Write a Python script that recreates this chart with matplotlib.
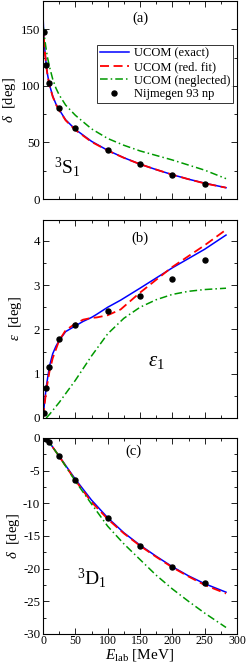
import numpy as np
import matplotlib
matplotlib.use('Agg')
import matplotlib.pyplot as plt
from matplotlib.ticker import MultipleLocator

plt.rcParams['font.family'] = ['Liberation Serif', 'DejaVu Serif']
plt.rcParams['mathtext.fontset'] = 'custom'
plt.rcParams['mathtext.rm'] = 'Liberation Serif'
plt.rcParams['mathtext.it'] = 'Liberation Serif:italic'
plt.rcParams['axes.unicode_minus'] = False

# Nijmegen PWA93 np data
e_data = [1, 5, 10, 25, 50, 100, 150, 200, 250]
s1_data = [147.7, 118.2, 102.6, 80.6, 62.8, 43.2, 30.7, 21.2, 13.4]
eps_data = [0.105, 0.672, 1.159, 1.793, 2.109, 2.42, 2.75, 3.13, 3.56]
d1_data = [-0.005, -0.183, -0.677, -2.799, -6.433, -12.236, -16.48, -19.71, -22.21]

# 3S1 curves
e_s1 = [0.4, 1, 2, 3, 5, 7, 10, 15, 20, 25, 35, 50, 75, 100, 125, 150, 175, 200, 225, 250, 283]
s1_exact = [157, 148, 138, 131, 118, 110, 101, 91, 84, 79, 70, 61.5, 51, 43, 36.5, 30.8, 26, 21.5, 17.5, 14, 10]
s1_red = [126, 146, 137, 130, 117.5, 109.5, 100.5, 90.5, 83.5, 78.5, 69.5, 61, 50.5, 42.8, 36.4, 30.8, 26, 21.5, 17.5, 13.8, 10]
s1_negl = [152, 150, 145, 140, 132, 125, 117, 106, 98, 92, 83, 74, 62, 53.5, 47.5, 42.5, 38.5, 34.5, 30, 25.5, 18]

# epsilon1 curves
e_eps = [0.5, 2, 5, 10, 15, 20, 25, 35, 50, 62, 75, 83, 100, 120, 150, 200, 250, 283]
eps_exact = [0.05, 0.3, 0.7, 1.17, 1.45, 1.62, 1.75, 1.95, 2.08, 2.18, 2.27, 2.34, 2.5, 2.66, 2.93, 3.39, 3.81, 4.13]
eps_red = [0.02, 0.25, 0.62, 1.05, 1.35, 1.55, 1.75, 1.98, 2.13, 2.22, 2.26, 2.27, 2.32, 2.45, 2.83, 3.41, 3.9, 4.25]
e_negl = [5, 10, 25, 50, 75, 100, 125, 150, 175, 200, 225, 250, 283]
eps_negl = [0.0, 0.08, 0.35, 0.85, 1.4, 1.9, 2.25, 2.5, 2.67, 2.79, 2.86, 2.9, 2.93]

# 3D1 curves
e_d1 = [0, 5, 10, 25, 50, 75, 100, 125, 150, 175, 200, 225, 250, 283]
d1_exact = [0, -0.2, -0.7, -2.8, -6.3, -9.5, -12.2, -14.5, -16.4, -18.1, -19.7, -21.1, -22.3, -23.6]
d1_red = [0, -0.2, -0.7, -2.8, -6.5, -9.8, -12.4, -14.6, -16.5, -18.2, -19.8, -21.2, -22.5, -23.8]
d1_negl = [0, -0.2, -0.7, -2.8, -6.6, -10.1, -13.5, -16.2, -18.6, -21.0, -23.1, -25.0, -26.8, -29.0]

blue = '#0000ff'
red = '#ff0000'
green = '#009900'
dashdot = (0, (5, 2, 1, 2))

fig = plt.figure(figsize=(2.49, 6.70), dpi=100)
W, H = 249.0, 670.0
left = 43 / W
width = 194 / W
ax_a = fig.add_axes([left, (H - 199) / H, width, 198 / H])
ax_b = fig.add_axes([left, (H - 418) / H, width, 198 / H])
ax_c = fig.add_axes([left, (H - 634) / H, width, 196 / H])

fs_y = 9.3
fs_x = 8.6
fs_lab = 10.5
fs_tag = 10.5
fs_big = 14


def curves(ax, e1, y1, e2, y2, e3, y3, ed, yd):
    ax.plot(e1, y1, color=blue, lw=1.1, label='UCOM (exact)')
    ax.plot(e2, y2, color=red, lw=1.3, ls=(0, (5, 2.5)), label='UCOM (red. fit)')
    ax.plot(e3, y3, color=green, lw=1.1, ls=dashdot, label='UCOM (neglected)')
    ax.plot(ed, yd, 'o', color='black', ms=3.6, label='Nijmegen 93 np')


def style(ax):
    ax.set_xlim(0, 300)
    ax.xaxis.set_major_locator(MultipleLocator(50))
    ax.xaxis.set_minor_locator(MultipleLocator(25))
    ax.tick_params(which='both', direction='in', top=True, right=True, pad=2)
    ax.tick_params(axis='y', labelsize=fs_y)
    ax.tick_params(axis='x', labelsize=fs_x, pad=1)
    ax.tick_params(which='major', length=4, width=0.6)
    ax.tick_params(which='minor', length=2.5, width=0.6)
    for sp in ax.spines.values():
        sp.set_linewidth(0.8)


curves(ax_a, e_s1, s1_exact, e_s1, s1_red, e_s1, s1_negl, e_data, s1_data)
style(ax_a)
ax_a.set_ylim(0, 175)
ax_a.yaxis.set_major_locator(MultipleLocator(50))
ax_a.yaxis.set_minor_locator(MultipleLocator(25))
ax_a.set_xticklabels([])
ax_a.set_ylabel(r'$\delta$  [deg]', fontsize=fs_lab, labelpad=2)
ax_a.text(150, 160, '(a)', fontsize=fs_tag, ha='center', va='center')
ax_a.text(38, 28, r'$^3$S$_1$', fontsize=fs_big, ha='center', va='center')
leg = ax_a.legend(loc='upper right', bbox_to_anchor=(0.98, 0.78), fontsize=9,
                  frameon=True, fancybox=False, edgecolor='black', borderpad=0.25,
                  handlelength=2.3, handletextpad=0.4, labelspacing=0.12,
                  borderaxespad=0.0)
leg.get_frame().set_linewidth(0.7)

curves(ax_b, e_eps, eps_exact, e_eps, eps_red, e_negl, eps_negl, e_data, eps_data)
style(ax_b)
ax_b.set_ylim(0, 4.47)
ax_b.yaxis.set_major_locator(MultipleLocator(1))
ax_b.yaxis.set_minor_locator(MultipleLocator(0.5))
ax_b.set_xticklabels([])
ax_b.set_ylabel(r'$\varepsilon$  [deg]', fontsize=fs_lab, labelpad=7)
ax_b.text(150, 4.05, '(b)', fontsize=fs_tag, ha='center', va='center')
ax_b.text(175, 1.28, r'$\varepsilon_1$', fontsize=fs_big + 1, ha='center', va='center')

curves(ax_c, e_d1, d1_exact, e_d1, d1_red, e_d1, d1_negl, e_data, d1_data)
style(ax_c)
ax_c.set_ylim(-30, 0)
ax_c.yaxis.set_major_locator(MultipleLocator(5))
ax_c.yaxis.set_minor_locator(MultipleLocator(2.5))
ax_c.set_ylabel(r'$\delta$  [deg]', fontsize=fs_lab, labelpad=1)
ax_c.set_xlabel(r'$E_{\mathrm{lab}}$ [MeV]', fontsize=fs_lab + 0.5, labelpad=0)
ax_c.text(140, -2.0, '(c)', fontsize=fs_tag, ha='center', va='center')
ax_c.text(75, -21.5, r'$^3$D$_1$', fontsize=fs_big, ha='center', va='center')

fig.savefig('out.png', dpi=100)
